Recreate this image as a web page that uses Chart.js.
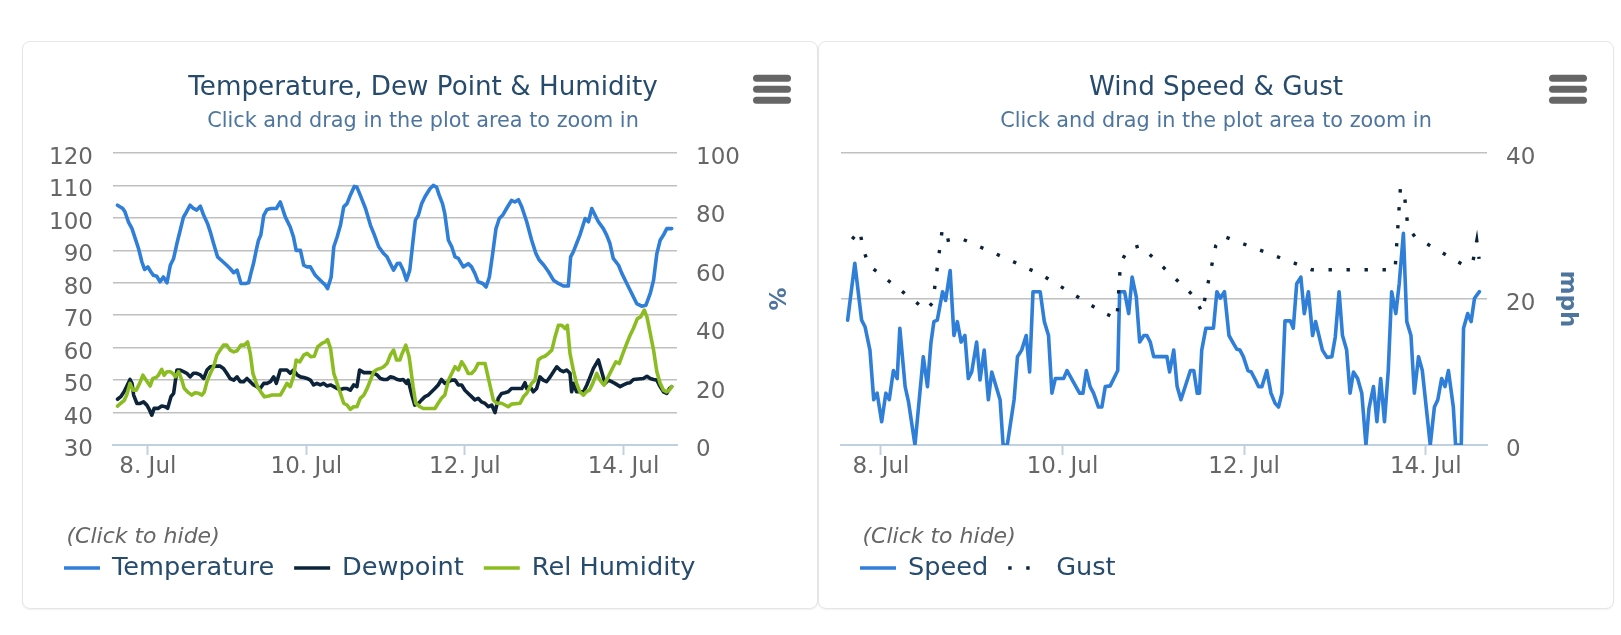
<!DOCTYPE html>
<html>
<head>
<meta charset="utf-8">
<script src="https://cdn.jsdelivr.net/npm/chart.js@4.4.1/dist/chart.umd.min.js"></script>
<style>
  html, body { margin: 0; padding: 0; background: #fff; }
  .card {
    position: absolute; top: 41px; width: 794px; height: 566px;
    border: 1px solid #e6e6e6; border-radius: 8px; background: #fff;
    box-shadow: 0 1px 2px rgba(0, 0, 0, .06);
  }
  #card-temp { left: 22px; }
  #card-wind { left: 818px; }
  canvas { display: block; }
</style>
</head>
<body>
<div class="card" id="card-temp"><canvas id="chart-temp" width="794" height="566"></canvas></div>
<div class="card" id="card-wind"><canvas id="chart-wind" width="794" height="566"></canvas></div>

<script>
// time = hours since 7 Jul 00:00
const tickHours  = [24, 72, 120, 168]
const tickLabels = ['8. Jul', '10. Jul', '12. Jul', '14. Jul']
const X_MIN = 13.45
const X_MAX = 184.2

const tempHours = [14.8,16.4,17.1,18.1,19.2,20.2,21.2,22.2,23.0,24.0,24.9,25.7,26.7,27.7,28.7,29.8,30.8,31.8,32.8,33.8,
  34.8,35.3,36.8,37.8,38.8,39.9,40.9,42.1,42.9,43.9,45.1,46.4,47.9,48.9,50.0,51.0,52.2,53.5,54.5,55.2,
  56.0,56.8,57.5,58.2,59.1,60.1,61.3,62.9,64.1,65.6,67.1,68.1,68.9,70.2,71.2,72.2,73.2,74.7,76.2,77.7,
  78.4,79.5,80.3,81.3,82.3,83.3,84.3,85.3,86.5,87.3,88.3,89.9,91.4,92.4,93.9,95.4,96.4,97.4,98.4,99.5,
  100.3,101.3,102.3,103.3,104.3,105.0,105.9,106.9,107.9,109.4,110.4,111.4,112.2,113.2,113.9,115.0,116.0,117.0,118.0,119.5,
  121.0,122.0,123.0,124.0,125.4,126.4,127.4,128.4,129.4,130.4,131.4,132.6,134.1,135.1,136.2,137.2,138.7,140.2,141.5,142.5,
  143.9,145.3,146.8,148.3,149.8,151.3,152.0,152.8,153.8,154.8,156.4,157.4,158.4,159.4,160.4,161.9,162.9,163.9,164.9,166.5,
  167.5,169.0,170.5,172.0,173.5,174.8,176.1,177.1,178.1,179.1,180.1,181.1,182.6]
const tempF = [103.9,102.9,101.8,98.8,96.7,93.6,90.5,86.4,84.1,84.9,83.4,82.3,82.0,80.3,81.8,80.0,85.4,87.5,92.1,96.2,
  100.3,101.1,103.9,102.9,102.4,103.6,100.8,98.2,95.7,92.1,88.0,86.8,85.4,84.4,83.1,83.9,79.8,79.8,80.0,82.9,
  86.0,90.0,93.1,94.7,100.8,102.6,102.9,102.9,104.9,100.3,97.2,94.1,90.0,90.0,85.4,84.9,84.9,82.3,80.8,79.3,
  78.2,81.8,91.1,94.1,97.7,103.4,104.4,107.0,109.7,109.5,107.0,102.9,97.7,95.2,91.1,89.0,88.0,85.9,83.9,85.9,
  86.0,83.9,80.8,83.9,93.1,99.3,100.8,104.4,106.5,109.0,110.0,109.5,107.0,104.4,101.3,93.1,91.1,88.0,87.5,84.9,
  85.9,84.9,82.9,80.3,79.8,78.7,81.8,89.0,96.7,99.8,100.8,102.9,105.4,104.9,105.6,103.4,98.8,93.1,89.0,87.0,
  85.4,83.4,80.8,79.8,79.0,79.0,88.0,89.5,92.1,94.7,99.8,98.8,102.9,100.8,98.8,96.7,94.7,92.1,87.5,85.4,
  82.9,79.8,76.7,73.6,72.8,73.1,76.7,80.8,89.0,93.1,94.7,96.7,96.7]

const dewHours = [14.8,15.8,16.8,17.8,18.6,19.2,19.7,20.7,21.7,22.7,23.7,24.5,25.2,25.9,27.2,28.2,29.3,30.0,31.0,31.8,
  32.8,33.8,34.8,35.8,36.8,37.8,38.8,39.9,40.9,41.9,42.9,44.9,45.9,46.9,47.9,48.9,50.0,51.0,52.0,53.0,
  54.0,55.0,56.0,57.0,58.0,59.1,60.1,61.1,62.1,62.9,64.1,65.1,66.1,67.1,68.1,69.2,70.2,71.2,72.2,73.2,
  74.2,75.2,76.2,77.2,78.2,79.3,80.3,81.3,82.3,83.3,84.3,85.3,86.3,87.3,88.1,89.4,91.4,92.4,93.4,94.4,
  95.4,96.4,97.4,98.4,99.5,100.3,101.3,102.3,102.8,103.8,104.8,105.9,106.9,107.9,108.9,109.9,110.9,111.9,112.9,113.9,
  115.0,116.0,117.0,118.0,119.0,120.0,121.0,122.0,123.0,124.0,125.0,126.1,127.1,128.1,129.1,130.1,131.1,132.1,133.1,134.1,
  137.2,138.2,138.7,139.7,140.7,141.7,142.7,143.7,144.7,145.8,146.8,147.8,148.8,149.8,150.8,151.8,152.3,152.8,153.8,155.9,
  156.9,157.9,158.9,160.4,161.4,162.4,163.4,164.4,165.4,167.0,168.0,169.0,170.0,171.0,174.0,175.1,176.1,177.1,178.1,179.1,
  180.1,181.1,181.9,182.6]
const dewF = [44.1,44.9,46.4,48.5,50.2,49.0,45.4,42.8,42.8,43.3,42.3,40.8,39.2,41.3,41.3,42.0,41.8,41.3,44.9,45.9,
  53.1,53.1,52.6,52.1,51.0,52.1,52.1,51.6,50.5,53.1,54.1,54.3,54.3,53.6,52.1,50.5,50.0,51.0,49.5,49.5,
  50.5,49.5,48.5,48.0,47.4,49.0,49.0,49.5,51.0,49.0,53.1,53.1,53.1,52.1,53.1,51.6,51.0,50.8,50.5,50.0,
  48.5,49.0,48.5,49.0,48.2,48.5,48.0,47.4,47.1,47.4,47.4,46.9,48.5,48.0,53.1,52.3,52.3,52.1,51.6,50.5,
  50.2,50.2,51.0,50.8,50.2,50.0,50.2,49.0,50.0,45.9,42.3,42.8,43.9,44.9,45.4,46.4,47.4,48.5,50.2,49.0,
  49.5,50.0,50.0,48.5,48.5,46.9,45.9,44.9,43.9,44.4,43.3,42.8,41.8,42.3,40.0,44.4,45.9,46.1,46.4,47.4,
  47.4,49.2,47.4,48.0,46.4,47.4,51.0,50.0,49.5,51.0,52.6,54.1,53.1,52.6,53.1,52.1,46.4,49.0,46.4,46.4,
  48.5,51.0,53.6,56.2,52.6,49.0,50.0,49.5,49.0,48.0,48.5,49.0,49.2,50.2,50.5,51.2,50.5,50.2,50.0,48.0,
  46.4,45.9,47.4,48.0]

const humHours = [14.8,15.8,16.8,17.6,18.6,19.5,20.5,21.5,22.5,23.5,24.7,25.5,26.5,27.2,28.2,28.9,29.8,30.8,31.6,32.3,
  33.3,34.3,35.0,36.0,37.3,38.3,39.4,40.4,41.1,41.9,42.9,43.9,44.9,45.9,46.9,47.9,48.9,50.0,51.0,52.2,
  53.2,54.2,55.0,55.8,56.5,57.2,58.2,59.3,60.6,61.6,64.1,65.1,66.1,67.1,68.1,68.9,70.0,71.2,72.2,73.4,
  74.4,75.4,76.7,77.7,78.4,79.3,80.3,81.3,82.3,83.3,84.3,85.3,86.3,87.3,88.3,89.4,90.4,91.4,92.4,93.4,
  94.4,95.4,96.4,97.4,98.4,99.3,100.3,100.8,102.1,103.1,104.3,105.1,106.4,107.4,110.9,111.9,112.9,113.9,115.0,116.0,
  117.0,118.0,119.0,120.0,121.0,122.0,123.0,124.0,126.1,127.1,128.6,129.6,131.1,132.1,133.1,134.1,136.7,137.7,138.7,140.2,
  141.2,142.2,143.2,144.2,145.3,146.3,147.3,148.3,149.3,150.3,151.0,151.8,152.8,153.8,154.8,155.9,156.7,157.7,158.7,159.9,
  160.9,162.1,163.4,164.9,165.7,166.7,168.0,169.0,170.0,171.0,172.2,173.2,174.3,175.1,176.1,177.1,178.1,179.1,180.1,181.1,
  181.9,182.6]
const humPct = [13.3,14.3,15.2,17.1,21.1,18.8,18.8,21.1,23.9,22.2,20.2,22.8,23.1,23.9,25.9,23.9,25.1,25.1,24.5,23.4,
  25.1,22.2,19.4,18.2,17.1,17.9,17.7,17.1,18.2,21.7,24.5,26.8,30.8,32.5,34.2,34.2,32.5,31.9,32.3,34.2,
  34.2,35.3,31.4,24.5,22.2,20.0,18.2,16.5,16.8,17.1,17.1,19.0,21.1,20.0,23.4,29.1,28.5,30.8,31.4,30.2,
  30.4,33.6,34.8,35.3,36.1,33.1,24.5,21.1,17.7,14.3,13.7,12.2,13.1,13.1,16.0,17.1,19.4,22.2,25.1,25.9,
  26.2,26.8,27.9,30.8,32.5,29.1,29.1,30.8,34.2,30.2,20.0,14.3,13.1,12.5,12.5,14.3,16.0,17.1,22.2,24.5,
  26.8,25.7,28.5,26.8,24.5,24.5,25.7,27.9,27.9,22.8,15.4,14.3,14.3,13.7,13.1,14.0,14.3,16.5,17.7,21.1,
  22.2,29.1,30.0,30.4,31.4,32.5,37.1,41.0,41.0,39.9,41.0,31.4,25.7,21.1,18.2,17.1,18.2,18.8,21.1,24.5,
  22.2,20.5,23.4,26.8,28.5,27.9,31.9,34.8,37.6,39.9,43.3,43.9,46.2,43.9,38.2,32.5,25.1,21.1,18.8,18.2,
  18.8,20.0]

const speedHours = [15.2,17.1,18.9,19.8,21.1,22.1,23.0,24.2,25.3,26.2,27.3,28.3,29.0,30.4,31.3,33.0,35.2,36.3,37.2,38.0,
  38.9,40.3,41.1,42.3,43.3,44.2,45.2,46.2,47.1,48.0,49.3,50.2,51.3,52.4,53.3,55.5,56.3,57.4,59.2,60.1,
  61.2,62.4,63.3,64.2,66.1,67.2,68.3,69.2,70.1,72.3,73.2,76.5,77.4,78.3,79.3,80.2,81.5,82.4,83.3,84.6,
  86.6,87.1,88.4,89.5,90.4,91.5,92.4,93.5,94.3,95.2,96.1,99.6,100.3,101.4,102.3,103.3,105.8,106.7,
  107.6,108.2,108.8,109.9,111.9,112.8,113.7,114.8,116.0,117.2,118.1,118.9,119.8,121.0,121.9,122.9,123.8,124.7,126.0,127.1,
  128.2,129.1,130.0,130.8,132.2,133.0,133.9,135.0,135.9,137.0,138.1,138.9,140.7,141.9,143.2,144.1,145.1,146.0,147.1,148.0,
  148.9,150.0,151.1,152.2,153.0,154.2,155.1,156.1,157.1,158.1,159.0,160.1,161.0,162.1,163.0,164.1,165.0,166.1,167.1,169.2,
  170.3,171.2,172.2,173.1,174.0,175.3,175.9,177.4,178.0,179.1,180.0,180.9,182.2]
const speedMph = [17.1,24.9,17.1,16.2,13.0,6.2,7.1,3.2,7.1,6.2,10.2,9.1,16.0,8.0,5.9,0,12.1,8.0,13.9,16.9,
  17.1,21.0,19.8,23.9,15.0,16.9,14.1,15.0,9.1,10.0,14.1,8.9,13.0,6.2,10.0,6.2,0,0,6.2,12.1,
  13.0,15.0,10.0,21.0,21.0,16.9,15.0,7.1,9.1,9.1,10.2,7.1,7.1,10.2,8.0,7.1,5.2,5.2,8.0,8.1,
  10.2,21.0,21.0,18.0,23.0,20.3,14.1,15.0,15.0,14.1,12.1,12.1,10.0,13.0,8.0,6.2,10.2,10.2,
  7.1,7.1,13.0,16.0,16.0,21.0,20.1,21.0,15.0,13.9,13.1,13.0,12.1,10.2,10.0,9.0,8.0,8.0,10.2,7.1,
  5.7,5.2,7.1,17.0,17.0,16.0,22.1,23.0,18.0,21.0,15.0,16.9,13.0,12.0,12.1,14.8,21.0,15.0,13.0,7.1,
  10.0,9.1,7.1,0,5.0,8.0,3.2,9.1,3.2,10.2,21.0,18.0,22.1,29.0,16.9,15.0,7.1,12.1,10.2,0,
  5.2,6.2,9.1,8.0,10.2,5.2,0,0,16.0,18.0,16.9,20.1,21.0]

const gustHours = [16.4,18.4,19.3,20.8,35.9,37.7,40.2,41.2,44.7,57.8,66.5,82.9,86.4,87.3,89.2,92.6,106.7,108.9,112.5,114.5,
  137.9,159.9,161.3,162.2,163.3,165.2,177.5,180.4,181.5,182.1]
const gustMph = [28.2,29.4,26.9,24.6,18.5,19.5,29.5,28.0,28.4,25.4,23.3,18.1,17.3,24.8,26.8,27.3,20.4,18.2,27.3,28.6,
  24.0,24.0,35.1,35.1,29.8,28.5,24.8,24.9,28.0,25.5]

const FONT = '"DejaVu Sans", Verdana, sans-serif'
Chart.defaults.font.family = FONT
Chart.defaults.color = '#666'

const COLORS = { temp: '#2f7ed8', dew: '#0d233a', hum: '#8bbc21' }

function series(label, hours, values, color, axis, extra = {}) {
  return {
    label,
    data: hours.map((h, i) => ({ x: h, y: values[i] })),
    borderColor: color,
    backgroundColor: color,
    borderWidth: 3.6,
    pointRadius: 0,
    pointHoverRadius: 0,
    tension: 0,
    borderJoinStyle: 'round',
    borderCapStyle: 'round',
    yAxisID: axis,
    ...extra,
  }
}

// legend drawn like the original: note line + symbol/label items
const bottomLegend = {
  id: 'bottomLegend',
  afterDraw(chart, args, opts) {
    const { ctx } = chart
    ctx.save()
    ctx.textBaseline = 'middle'
    ctx.textAlign = 'left'
    ctx.font = `italic 22px ${FONT}`
    ctx.fillStyle = '#666'
    ctx.fillText('(Click to hide)', opts.x + 2.5, opts.noteY)
    ctx.font = `25.6px ${FONT}`
    let x = opts.x
    chart.data.datasets.forEach(ds => {
      ctx.strokeStyle = ds.borderColor
      ctx.lineWidth = ds.borderWidth
      ctx.lineCap = 'butt'
      ctx.setLineDash(ds.borderDash || [])
      ctx.beginPath()
      ctx.moveTo(x, opts.y)
      ctx.lineTo(x + 36, opts.y)
      ctx.stroke()
      ctx.setLineDash([])
      ctx.fillStyle = '#274b6d'
      ctx.fillText(ds.label, x + 48, opts.y)
      x += 48 + ctx.measureText(ds.label).width + 20
    })
    ctx.restore()
  }
}

const menuIcon = {
  id: 'menuIcon',
  afterDraw(chart) {
    const { ctx } = chart
    const cx = chart.width - 45
    ctx.save()
    ctx.strokeStyle = '#666'
    ctx.lineWidth = 7
    ctx.lineCap = 'round'
    ;[36.3, 47.3, 58.3].forEach(y => {
      ctx.beginPath()
      ctx.moveTo(cx - 15.5, y)
      ctx.lineTo(cx + 15.5, y)
      ctx.stroke()
    })
    ctx.restore()
  }
}

function timeAxis() {
  return {
    type: 'linear',
    min: X_MIN,
    max: X_MAX,
    afterBuildTicks: s => { s.ticks = tickHours.map(v => ({ value: v })) },
    afterFit: s => { s.height = 163 },
    ticks: {
      callback: (v, i) => tickLabels[i],
      autoSkip: false, maxRotation: 0,
      font: { size: 23, lineHeight: 1 },
      padding: 1,
    },
    grid: { drawOnChartArea: false, drawTicks: true, tickLength: 10, tickWidth: 2, tickColor: '#c0d0e0' },
    border: { color: '#c0d0e0', width: 2 },
  }
}

function titles(text) {
  return {
    title: {
      display: true, text, color: '#274b6d',
      font: { size: 26.2, weight: 'normal', lineHeight: 1.2 },
      padding: { top: 30.5, bottom: 0 },
    },
    subtitle: {
      display: true, text: 'Click and drag in the plot area to zoom in', color: '#4d759e',
      font: { size: 20.8, lineHeight: 1.2 },
      padding: { top: 5.3, bottom: 18.8 },
    },
    legend: { display: false },
    tooltip: { enabled: false },
    bottomLegend: { x: 41, noteY: 495, y: 526 },
  }
}

new Chart(document.getElementById('chart-temp'), {
  type: 'line',
  data: {
    datasets: [
      series('Temperature', tempHours, tempF, COLORS.temp, 'yT', { order: 2 }),
      series('Dewpoint', dewHours, dewF, COLORS.dew, 'yT', { order: 1 }),
      series('Rel Humidity', humHours, humPct, COLORS.hum, 'yH', { order: 0 }),
    ],
  },
  options: {
    responsive: false,
    animation: false,
    devicePixelRatio: 1,
    events: [],
    layout: { padding: { left: 6, right: 0, top: 0, bottom: 0 } },
    plugins: titles('Temperature, Dew Point & Humidity'),
    scales: {
      x: timeAxis(),
      yT: {
        position: 'left', min: 30, max: 120,
        ticks: { stepSize: 10, padding: 20, labelOffset: 5, font: { size: 23 } },
        grid: { color: '#c0c0c0', lineWidth: 1.6, drawTicks: false },
        border: { display: false },
        afterFit: s => { s.width = 84 },
      },
      yH: {
        position: 'right', min: 0, max: 100,
        ticks: { stepSize: 10, padding: 19, labelOffset: 5, font: { size: 23 } },
        grid: { display: false, drawTicks: false },
        border: { display: false },
        title: { display: true, text: '%', color: '#4d759e', font: { size: 23, weight: 'bold', lineHeight: 1.2 }, padding: { top: 28, bottom: 0 } },
        afterFit: s => { s.width = 140 },
      },
    },
  },
  plugins: [bottomLegend, menuIcon],
})

new Chart(document.getElementById('chart-wind'), {
  type: 'line',
  data: {
    datasets: [
      series('Speed', speedHours, speedMph, COLORS.temp, 'y', { order: 1 }),
      series('Gust', gustHours, gustMph, COLORS.dew, 'y', { order: 0, borderWidth: 3.4, borderDash: [3.4, 14.6], borderCapStyle: 'butt', borderJoinStyle: 'miter' }),
    ],
  },
  options: {
    responsive: false,
    animation: false,
    devicePixelRatio: 1,
    events: [],
    layout: { padding: { left: 22, right: 22, top: 0, bottom: 0 } },
    plugins: titles('Wind Speed & Gust'),
    scales: {
      x: timeAxis(),
      y: {
        position: 'right', min: 0, max: 40,
        ticks: { stepSize: 20, padding: 19, labelOffset: 5, font: { size: 23 } },
        grid: { color: '#c0c0c0', lineWidth: 1.6, drawTicks: false },
        border: { display: false },
        title: { display: true, text: 'mph', color: '#4d759e', font: { size: 23, weight: 'bold', lineHeight: 1.2 }, padding: { top: 10.2, bottom: 0 } },
        afterFit: s => { s.width = 104 },
      },
    },
  },
  plugins: [bottomLegend, menuIcon],
})
</script>
</body>
</html>
